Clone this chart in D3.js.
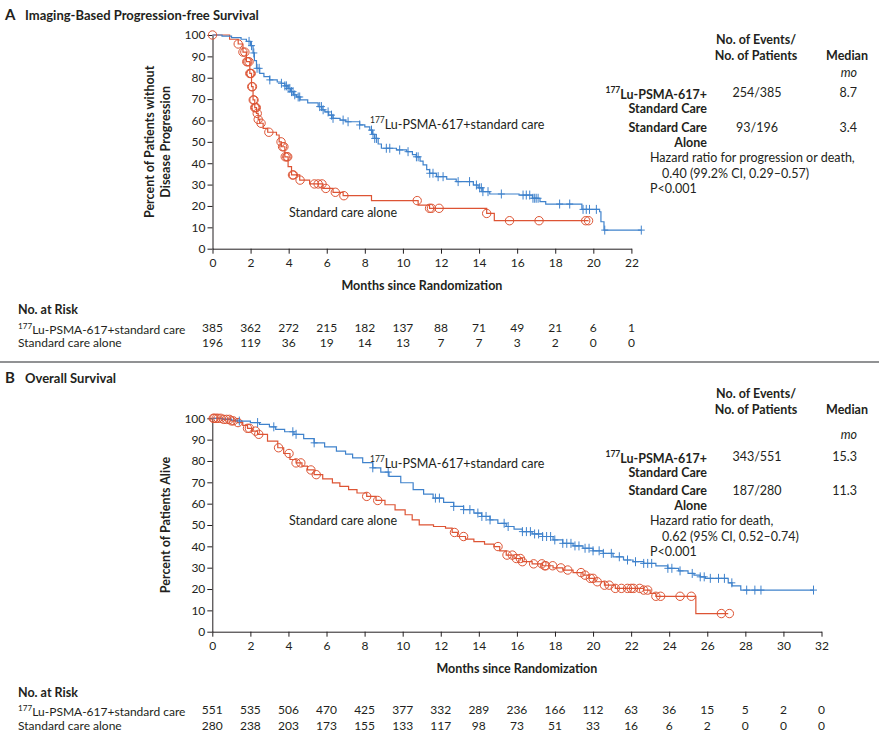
<!DOCTYPE html>
<html><head><meta charset="utf-8">
<script src="https://cdn.jsdelivr.net/npm/d3@7"></script>
<style>body{margin:0;background:#fff}svg{display:block;font-family:Lato,"Open Sans",sans-serif}</style>
</head><body>
<script>
// ---------- DATA ----------
const pfsTicksX = [0,2,4,6,8,10,12,14,16,18,20,22];
const osTicksX  = [0,2,4,6,8,10,12,14,16,18,20,22,24,26,28,30,32];
const yTicks = [0,10,20,30,40,50,60,70,80,90,100];

const pfsRiskLu = [385,362,272,215,182,137,88,71,49,21,6,1];
const pfsRiskSc = [196,119,36,19,14,13,7,7,3,2,0,0];
const osRiskLu  = [551,535,506,470,425,377,332,289,236,166,112,63,36,15,5,2,0];
const osRiskSc  = [280,238,203,173,155,133,117,98,73,51,33,16,6,2,0,0,0];

// step curves: [month, percent]
const pfsLuCurve = [[0,100],[0.5,99.5],[1.0,98.8],[1.5,98],[1.78,97],[2.0,95],[2.13,91.6],[2.2,88],[2.31,84.4],[2.48,82],[2.7,80.5],[3.0,79],[3.4,78],[3.62,77.4],[3.8,76.2],[3.97,75],[4.1,73.5],[4.25,72],[4.41,71],[4.6,69.6],[5.0,68.2],[5.55,66.5],[5.75,65],[5.9,64],[6.1,62.5],[6.33,61],[6.7,60.2],[7.0,59.4],[7.73,57.9],[8.0,57],[8.26,55.5],[8.4,53.5],[8.52,51.6],[8.7,49],[8.87,47],[9.66,46.2],[10.2,45.4],[10.5,44],[10.7,43],[10.9,41],[11.06,39.2],[11.25,37],[11.4,35.3],[11.76,33.7],[12.3,32.6],[12.8,31.4],[13.7,29.8],[13.95,28.5],[14.2,26.7],[14.56,25.6],[16.1,25.1],[16.8,23.6],[17.2,22],[17.5,20.9],[19.4,18.4],[20.33,17.3],[20.4,12.6],[20.56,8.7],[22.5,8.7]];
const pfsScCurve = [[0,100],[0.9,98],[1.35,95.8],[1.6,92],[1.78,87.5],[1.96,82],[2.05,75.8],[2.13,69.6],[2.22,66],[2.31,63.3],[2.4,60.5],[2.48,58.7],[2.66,56.3],[2.9,54.5],[3.36,53.2],[3.5,50],[3.62,47.7],[3.8,43],[3.97,38.4],[4.15,34.5],[4.58,32.1],[5.1,30.3],[5.8,28.2],[6.33,26.4],[6.86,24.8],[8.35,22.5],[10.8,20.4],[11.4,18.9],[14.4,16.5],[14.8,13.1],[19.75,13.1]];
const pfsLuCensor = [1.92,2.05,2.17,2.34,2.45,3.01,3.62,3.8,3.88,3.97,4.06,4.15,4.23,4.32,4.5,4.58,5.63,5.72,5.81,6.07,6.25,6.33,6.86,7.12,7.73,8.35,8.43,8.52,8.61,9.13,9.31,9.83,10.27,10.71,10.8,11.41,11.58,11.85,12.11,12.9,13.5,13.86,14.03,14.12,14.2,14.47,15.17,16.31,16.48,16.66,16.83,16.92,17.0,17.1,18.23,18.76,19.46,19.63,19.8,20.16,20.6,22.52];
const pfsScCensor = [0,1.35,1.6,1.7,1.8,1.85,1.92,1.96,2.0,2.03,2.06,2.1,2.14,2.18,2.22,2.26,2.3,2.35,2.4,2.55,2.96,3.6,3.68,3.75,3.82,3.9,3.95,4.2,4.25,4.6,5.35,5.55,5.75,5.95,6.45,6.9,10.75,11.4,11.5,11.9,14.4,15.6,17.15,19.6,19.75];

const osLuCurve = [[0,100],[0.5,99.6],[1.0,99.2],[1.42,98.7],[2.0,98],[2.48,97.2],[3.0,96],[3.33,94.8],[3.8,93.7],[4.29,92.5],[4.8,90.5],[5.35,88.5],[5.9,86.6],[6.52,84.6],[7.0,83.2],[7.37,81.5],[7.9,79.2],[8.43,76.8],[8.85,74.8],[9.28,72.8],[9.9,69.8],[10.55,66.6],[11.1,64.5],[11.6,62.6],[12.15,60.6],[12.68,58.7],[13.2,57.2],[13.74,55.6],[14.15,54],[14.59,52.4],[15.0,50.8],[15.44,49.3],[15.85,48.1],[16.29,46.9],[16.8,45.8],[17.35,44.6],[17.9,43],[18.41,41.4],[18.95,40.2],[19.47,39.1],[20.0,37.9],[20.54,36.7],[21.05,35.1],[21.6,33.6],[22.1,32.8],[22.66,32.0],[23.3,30.8],[23.93,29.7],[24.5,28.5],[24.99,27.3],[25.3,26.5],[25.63,25.7],[25.9,25.0],[27.1,22.9],[27.3,21.5],[27.76,19.5],[31.58,19.5]];
const osScCurve = [[0,100],[0.57,99.5],[1.0,98.8],[1.32,98],[1.6,96.7],[1.85,95.3],[2.1,94],[2.38,92.5],[2.9,89.3],[3.44,86.2],[3.75,83.5],[4.08,80.7],[4.4,79.1],[4.71,77.6],[5.0,75.8],[5.35,73.6],[5.8,71.6],[6.31,69.7],[6.7,68.1],[7.16,66.6],[7.6,65],[8.11,63.4],[8.6,61.5],[9.07,59.5],[9.6,57.1],[10.13,54.8],[10.5,52.4],[10.87,50.1],[11.62,49.3],[12.25,48.5],[12.6,46.5],[12.89,44.6],[13.3,43.4],[13.74,42.2],[14.3,41],[14.8,39.9],[15.1,37.9],[15.44,35.9],[15.85,34.3],[16.29,32.8],[16.8,31.8],[17.35,30.9],[17.9,29.9],[18.41,28.9],[18.95,27.7],[19.47,26.5],[19.8,25],[20.11,23.4],[20.6,21.8],[21.17,20.3],[22.66,19.5],[23.0,18],[23.3,16.6],[25.4,8.5],[27.1,8.5]];
const osLuCensor = [1.42,2.38,3.23,4.23,4.4,5.35,8.43,9.24,11.72,11.93,12.68,13.2,13.53,13.95,14.16,14.38,14.59,15.33,15.54,16.29,16.5,16.71,16.93,17.14,17.35,17.56,17.77,17.99,18.41,18.62,18.84,19.05,19.26,19.58,19.79,20.0,20.32,20.54,20.96,21.38,21.81,22.23,22.66,22.87,23.08,23.93,24.14,24.57,25.21,25.63,25.84,26.16,26.59,26.9,27.29,28.07,28.5,28.82,31.58];
const osScCensor = [0.05,0.1,0.2,0.3,0.45,0.6,0.75,0.9,1.0,1.1,1.35,1.85,1.95,2.27,2.44,3.48,4.03,4.4,4.65,5.18,5.46,8.11,8.69,12.72,13.2,15.01,15.48,15.76,15.97,16.18,16.29,16.88,17.31,17.46,17.52,17.88,18.31,18.67,19.37,19.58,19.86,20.0,20.22,20.6,20.85,21.17,21.49,21.81,22.0,22.13,22.45,22.66,22.87,23.3,23.55,24.57,25.16,26.74,27.16];

const pfsEvents = ["254/385","93/196"];
const pfsMedians = ["8.7","3.4"];
const osEvents = ["343/551","187/280"];
const osMedians = ["15.3","11.3"];
const pfsHR = ["Hazard ratio for progression or death,","0.40 (99.2% CI, 0.29\u20130.57)","P<0.001"];
const osHR = ["Hazard ratio for death,","0.62 (95% CI, 0.52\u20130.74)","P<0.001"];

// ---------- STYLE ----------
const BLUE = "#3f82cc", RED = "#dd5434", INK = "#231f20";
const svg = d3.select("body").append("svg").attr("width",879).attr("height",740);
svg.append("rect").attr("width",879).attr("height",740).attr("fill","#fff");

function stepVal(curve, t){
  let v = curve[0][1];
  for (const p of curve){ if (p[0] <= t + 1e-9) v = p[1]; else break; }
  return v;
}
function luText(sel, rest){
  sel.append("tspan").text("177").attr("font-size","0.68em").attr("dy","-0.42em");
  sel.append("tspan").text(rest).attr("dy","0.42em");
}

function panel(cfg){
  const g = svg.append("g");
  const x = d3.scaleLinear().domain(cfg.xDomain).range(cfg.xRange);
  const y = d3.scaleLinear().domain([0,100]).range(cfg.yRange);

  // title
  g.append("text").attr("x",5).attr("y",cfg.titleY).attr("font-weight",700).attr("font-size",15).attr("fill",INK).text(cfg.letter);
  g.append("text").attr("x",25).attr("y",cfg.titleY).attr("font-weight",700).attr("font-size",13).attr("fill",INK).text(cfg.title);

  // axes
  const ya = g.append("g").attr("transform",`translate(${x(0)},0)`)
    .call(d3.axisLeft(y).tickValues(yTicks).tickSize(5).tickSizeOuter(0).tickPadding(2));
  const xa = g.append("g").attr("transform",`translate(0,${y(0)})`)
    .call(d3.axisBottom(x).tickValues(cfg.xTicks).tickSize(5).tickSizeOuter(0).tickPadding(5));
  [ya,xa].forEach(a=>{
    a.selectAll("path,line").attr("stroke",INK).attr("stroke-width",1);
    a.selectAll("text").attr("font-size",12).attr("fill",INK).attr("font-family","Lato, sans-serif");
  });

  // y label
  const cy = (cfg.yRange[0]+cfg.yRange[1])/2;
  cfg.yLabel.forEach((l,i)=>{
    const lx = cfg.yLabelX[i];
    g.append("text").attr("transform",`translate(${lx},${cy}) rotate(-90)`)
      .attr("text-anchor","middle").attr("dy","0.35em").attr("font-weight",700).attr("font-size",12.5).attr("fill",INK).text(l);
  });
  // x label
  g.append("text").attr("x",(cfg.xRange[0]+cfg.xRange[1])/2).attr("y",cfg.xLabelY)
    .attr("text-anchor","middle").attr("font-weight",700).attr("font-size",12.5).attr("fill",INK).text("Months since Randomization");

  const line = d3.line().x(d=>x(d[0])).y(d=>y(d[1])).curve(d3.curveStepAfter);
  // curves
  g.append("path").datum(cfg.scCurve).attr("d",line).attr("fill","none").attr("stroke",RED).attr("stroke-width",1.2);
  g.append("path").datum(cfg.luCurve).attr("d",line).attr("fill","none").attr("stroke",BLUE).attr("stroke-width",1.2);
  // censor marks
  g.append("g").selectAll("circle").data(cfg.scCensor).join("circle")
    .attr("cx",d=>x(d)).attr("cy",d=>y(stepVal(cfg.scCurve,d))).attr("r",4.2)
    .attr("fill","none").attr("stroke",RED).attr("stroke-width",1);
  g.append("g").selectAll("path").data(cfg.luCensor).join("path")
    .attr("d",d=>{const px=x(d), py=y(stepVal(cfg.luCurve,d)); return `M${px-3.5},${py}H${px+3.5}M${px},${py-4.5}V${py+4.5}`;})
    .attr("fill","none").attr("stroke",BLUE).attr("stroke-width",1);

  // curve labels
  const t1 = g.append("text").attr("x",cfg.luLabel[0]).attr("y",cfg.luLabel[1]).attr("font-size",12.5).attr("fill",INK);
  luText(t1,"Lu-PSMA-617+standard care");
  g.append("text").attr("x",cfg.scLabel[0]).attr("y",cfg.scLabel[1]).attr("font-size",12.5).attr("fill",INK).text("Standard care alone");

  // legend table
  const L = cfg.leg;
  const fs = 12.5;
  const bold = (x0,y0,txt,anchor)=>g.append("text").attr("x",x0).attr("y",y0).attr("text-anchor",anchor).attr("font-weight",700).attr("font-size",fs).attr("fill",INK).text(txt);
  const reg = (x0,y0,txt,anchor)=>g.append("text").attr("x",x0).attr("y",y0).attr("text-anchor",anchor).attr("font-size",fs).attr("fill",INK).text(txt);
  bold(756,L.h1,"No. of Events/","middle");
  bold(756,L.h2,"No. of Patients","middle");
  bold(868,L.h2,"Median","end");
  reg(857,L.mo,"mo","end").attr("font-style","italic");
  const r1 = g.append("text").attr("x",707).attr("y",L.r1).attr("text-anchor","end").attr("font-weight",700).attr("font-size",fs).attr("fill",INK);
  luText(r1,"Lu-PSMA-617+");
  bold(707,L.r1+16,"Standard Care","end");
  bold(707,L.r2,"Standard Care","end");
  bold(707,L.r2+15,"Alone","end");
  reg(757,L.r1,cfg.events[0],"middle");
  reg(757,L.r2,cfg.events[1],"middle");
  reg(857,L.r1,cfg.medians[0],"end");
  reg(857,L.r2,cfg.medians[1],"end");
  reg(650,L.hr,cfg.hr[0],"start");
  reg(662,L.hr+15.5,cfg.hr[1],"start");
  reg(650,L.hr+31,cfg.hr[2],"start");

  // risk table
  const R = cfg.risk;
  g.append("text").attr("x",18).attr("y",R[0]).attr("font-weight",700).attr("font-size",12.5).attr("fill",INK).text("No. at Risk");
  const rl = g.append("text").attr("x",18).attr("y",R[1]).attr("font-size",12).attr("fill",INK);
  luText(rl,"Lu-PSMA-617+standard care");
  g.append("text").attr("x",18).attr("y",R[2]).attr("font-size",12).attr("fill",INK).text("Standard care alone");
  g.append("g").selectAll("text").data(cfg.riskLu).join("text")
    .attr("x",(d,i)=>x(cfg.xTicks[i])).attr("y",R[1]).attr("text-anchor","middle").attr("font-size",12).attr("fill",INK).text(d=>d);
  g.append("g").selectAll("text").data(cfg.riskSc).join("text")
    .attr("x",(d,i)=>x(cfg.xTicks[i])).attr("y",R[2]).attr("text-anchor","middle").attr("font-size",12).attr("fill",INK).text(d=>d);
}

panel({
  letter:"A", title:"Imaging-Based Progression-free Survival", titleY:20,
  xDomain:[0,22], xRange:[212.5,631.4], yRange:[248.7,35], xTicks:pfsTicksX,
  yLabel:["Percent of Patients without","Disease Progression"], yLabelX:[150,166],
  xLabelY:290,
  luCurve:pfsLuCurve, scCurve:pfsScCurve, luCensor:pfsLuCensor, scCensor:pfsScCensor,
  luLabel:[370,127], scLabel:[289,217],
  leg:{h1:44,h2:60,mo:77,r1:97,r2:132,hr:162},
  events:pfsEvents, medians:pfsMedians, hr:pfsHR,
  risk:[314,332,347], riskLu:pfsRiskLu, riskSc:pfsRiskSc
});
svg.append("line").attr("x1",0).attr("x2",879).attr("y1",362).attr("y2",362).attr("stroke","#6d6e71").attr("stroke-width",1.5);
panel({
  letter:"B", title:"Overall Survival", titleY:383,
  xDomain:[0,32], xRange:[212.3,821.5], yRange:[631.7,418.3], xTicks:osTicksX,
  yLabel:["Percent of Patients Alive"], yLabelX:[166],
  xLabelY:673,
  luCurve:osLuCurve, scCurve:osScCurve, luCensor:osLuCensor, scCensor:osScCensor,
  luLabel:[370,466], scLabel:[289,525],
  leg:{h1:398,h2:414,mo:439,r1:461,r2:495,hr:525},
  events:osEvents, medians:osMedians, hr:osHR,
  risk:[697,714,730], riskLu:osRiskLu, riskSc:osRiskSc
});
</script>
</body></html>
